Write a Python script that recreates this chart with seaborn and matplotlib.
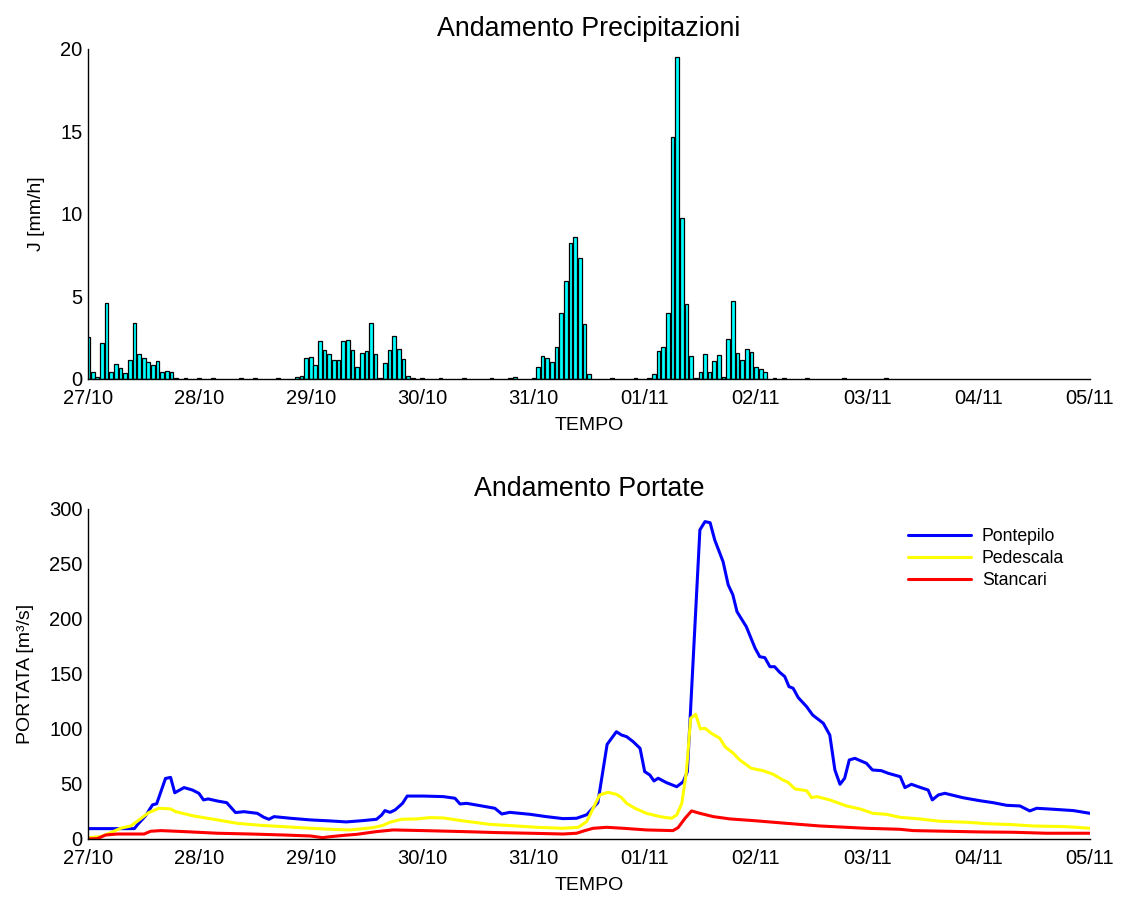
import numpy as np
import pandas as pd
import matplotlib
matplotlib.use("Agg")
import matplotlib.pyplot as plt
import seaborn as sns

# ---------------- data ----------------
day_labels = ["27/10", "28/10", "29/10", "30/10", "31/10",
              "01/11", "02/11", "03/11", "04/11", "05/11"]

# hourly rainfall intensity (hours from 27/10 00:00), dry hours omitted
rain_hours = [0, 1, 2, 3, 4, 5, 6, 7, 8, 9, 10, 11, 12, 13, 14, 15, 16, 17, 18,
              19, 21, 24, 27, 33, 36, 41,
              45, 46, 47, 48, 49, 50, 51, 52, 53, 54, 55, 56, 57, 58, 59, 60,
              61, 62, 63, 64, 65, 66, 67, 68, 69, 70,
              72, 76, 81, 87, 91, 92,
              96, 97, 98, 99, 100, 101, 102, 103, 104, 105, 106, 107, 108,
              113, 118,
              121, 122, 123, 124, 125, 126, 127, 128, 129, 130, 131, 132, 133,
              134, 135, 136, 137, 138, 139, 140, 141, 142, 143, 144, 145, 146,
              148, 150, 155, 163, 172]
rain_mm = [2.56, 0.40, 0.15, 2.16, 4.59, 0.40, 0.91, 0.69, 0.34, 1.13, 3.39,
           1.49, 1.25, 1.05, 0.83, 1.11, 0.42, 0.50, 0.42,
           0.05, 0.05, 0.03, 0.05, 0.04, 0.05, 0.04,
           0.10, 0.20, 1.25, 1.35, 0.85, 2.28, 1.76, 1.52, 1.15, 1.15, 2.32,
           2.38, 1.74, 0.73, 1.56, 1.70,
           3.41, 1.52, 0.04, 0.99, 1.74, 2.63, 1.80, 1.21, 0.18, 0.05,
           0.04, 0.05, 0.04, 0.05, 0.08, 0.10,
           0.08, 0.73, 1.41, 1.25, 1.05, 1.94, 3.98, 5.94, 8.22, 8.63, 7.31,
           3.31, 0.32,
           0.04, 0.05,
           0.08, 0.28, 1.70, 1.94, 3.98, 14.69, 19.54, 9.74, 4.55, 1.39, 0.05,
           0.40, 1.52,
           0.40, 1.09, 1.45, 0.10, 2.40, 4.71, 1.56, 1.15, 1.80, 1.64, 0.71,
           0.63, 0.42,
           0.05, 0.04, 0.05, 0.04, 0.03]

# discharge at the three gauges [m3/s]
pontepilo_h = [0, 10, 10.6, 12.4, 13.9, 14.8, 16.7, 17.8, 18.7, 20.7, 22.5, 23.9,
               24.9, 25.9, 27.9, 29.9, 31.8, 33.6, 36.5, 37.9, 39, 40.1, 43.7,
               48, 52.2, 55.7, 59.3, 62.2, 63.3, 64, 65.1, 66.2, 67.8, 68.8,
               72.3, 76.6, 79.1, 80.2, 81.6, 84.5, 87.7, 89.2, 90.9, 95.3, 98.8,
               102.4, 105.3, 107.5, 109.9, 111.9, 113.9, 115, 116.1, 117.5, 119,
               120, 121.1, 122, 122.9, 124.7, 126.9, 128.3, 129.2, 131.9, 133,
               134.1, 135.1, 136.9, 138, 139, 139.9, 141.9, 143.8, 144.8, 145.9,
               147, 148, 149.1, 150.2, 151.1, 152, 153.1, 154.9, 156.2, 158.5,
               159.9, 161, 162.1, 163.1, 164.1, 165.3, 167.8, 169.1, 171, 172.5,
               175.1, 176.1, 177.5, 179.3, 181.1, 182, 183.3, 184.7, 188.6,
               192.2, 195.1, 198, 200.9, 203, 204.5, 208.1, 212.4, 216]
pontepilo_q = [9.4, 9.4, 12.7, 21, 31, 32, 55, 56, 42, 46.7, 44.5, 41.5,
               35.5, 36.4, 34.5, 33, 24, 24.8, 23.3, 19.7, 17.9, 20.3, 18.8,
               17.3, 16.4, 15.5, 16.7, 17.9, 21.8, 25.8, 24.2, 26.4, 32.4, 39,
               39, 38.5, 37, 31.8, 32.4, 30.3, 27.9, 22.7, 24.2, 22.4, 20.3,
               18.5, 18.8, 22, 33, 86, 97.5, 94.5, 93, 88.5, 82.4,
               61.2, 58.2, 52.7, 55.2, 51.2, 47.5, 52, 61.2, 281, 288.5,
               287.5, 271.8, 252, 231, 222, 206.6, 193, 173.4, 165.7, 164.8,
               156.6, 156.6, 151.5, 147.6, 138.5, 137, 128.5, 120.3, 112.7, 105.2,
               94.5, 62.7, 49.7, 55.2, 71.8, 73.3, 68.8, 62.7, 62.1, 59.7,
               56.6, 46.7, 49.7, 47, 44.5, 35.5, 40, 41.5, 37.5,
               34.8, 33, 30.6, 30, 25.5, 27.9, 27, 25.8, 23.3]

pedescala_h = [0, 2.7, 4.9, 7, 9.2, 11, 13.1, 15.3, 17.8, 18.9, 22.8, 27.9, 32.2,
               37.2, 42.2, 48, 52.2, 56.5, 61.5, 63.6, 65.1, 67.6, 70.8, 73.7,
               76.6, 80.9, 86.6, 92.4, 96.7, 102.4, 105.7, 107.5, 108.9, 110.3,
               112.1, 113.9, 115, 116.1, 117.9, 120.4, 123.3, 125.8, 126.9, 128,
               129, 129.9, 131, 132, 133, 134.4, 136.2, 137.3, 139.1, 140.5,
               143, 145.5, 147.7, 149.8, 150.9, 152.4, 154.9, 156, 157.1, 159.9,
               163.5, 166.4, 169.2, 172.1, 175, 179.3, 183.6, 189.4, 193.7,
               199.4, 203.7, 210.9, 216]
pedescala_q = [1.2, 2.1, 5.7, 9.7, 11.8, 17.3, 24, 27.9, 27.3, 24.8, 20.9, 17.3, 14.2,
               12.4, 11.2, 9.7, 8.8, 8.2, 10.3, 12.4, 15.2, 17.9, 18.2, 19.4,
               19.1, 16.4, 13.3, 11.8, 10.6, 9.7, 10.6, 15.8, 28, 40,
               42.4, 40.6, 37.6, 32.4, 27.9, 23.3, 20.3, 18.8, 21.8, 32.4,
               61.2, 109.7, 113.3, 100, 100.6, 96, 91.5, 83.9, 77.9, 71.8,
               64.2, 62.1, 58.8, 53.6, 51.5, 45.5, 43.9, 37.6, 38.5, 35.5,
               30, 27.3, 23.3, 22.4, 19.7, 18.2, 16.1, 15.2, 13.9,
               13, 11.8, 11.2, 9.7]

stancari_h = [0, 2, 3.8, 6.3, 12.1, 13.5, 15.7, 20.7, 27.9, 35.1, 42.2, 48, 50.5,
              52.3, 55.2, 57.9, 62.2, 65.8, 72.3, 80.9, 88.1, 95.3, 102.4, 105.3,
              107.1, 108.9, 111.8, 115.4, 120.4, 126.1, 127.2, 128.7, 130.1,
              131.9, 134.8, 138.4, 143.4, 150.6, 157.8, 167.8, 175, 177.9,
              185.1, 192.2, 199.4, 206.6, 216]
stancari_q = [0, 0.3, 3.6, 4.5, 4.5, 7, 7.6, 6.7, 5.2, 4.5, 3.6, 2.7, 1.2,
              2.1, 3.3, 4.2, 6.7, 8.2, 7.6, 6.7, 5.8, 5.2, 4.5, 5.2,
              7.6, 9.7, 10.6, 9.7, 8.2, 7.6, 10.3, 18.8, 25.5,
              23.3, 20.3, 18.2, 16.7, 14.2, 11.8, 9.7, 8.8, 7.6,
              7, 6.4, 6.1, 5.2, 5.2]

stations = ["Pontepilo", "Pedescala", "Stancari"]
station_colors = ["#0000FF", "#FFFF00", "#FF0000"]

# ---------------- style ----------------
sns.set_style("white")
plt.rcParams["font.family"] = ["Liberation Sans", "DejaVu Sans"]
plt.rcParams["xtick.direction"] = "in"
plt.rcParams["ytick.direction"] = "in"
plt.rcParams["text.color"] = "black"
plt.rcParams["axes.labelcolor"] = "black"

fig = plt.figure(figsize=(11.27, 8.97), dpi=100)
ax1 = fig.add_axes([0.0781, 0.5775, 0.8891, 0.3679])
ax2 = fig.add_axes([0.0781, 0.0647, 0.8891, 0.3679])

day_ticks = np.arange(len(day_labels)) * 24

# ---------------- rainfall ----------------
rain_df = pd.DataFrame({"hour": rain_hours, "rain": rain_mm})
sns.barplot(data=rain_df, x="hour", y="rain", native_scale=True, width=0.8,
            color="#00FFFF", saturation=1, edgecolor="black", linewidth=0.9,
            errorbar=None, ax=ax1)
ax1.set_ylim(0, 20)
ax1.set_yticks([0, 5, 10, 15, 20])
ax1.set_title("Andamento Precipitazioni", fontsize=19.3, pad=9, color="black")
ax1.set_ylabel("J [mm/h]", fontsize=14)

# ---------------- discharge ----------------
flow_df = pd.concat([
    pd.DataFrame({"hour": pontepilo_h, "q": pontepilo_q, "station": stations[0]}),
    pd.DataFrame({"hour": pedescala_h, "q": pedescala_q, "station": stations[1]}),
    pd.DataFrame({"hour": stancari_h, "q": stancari_q, "station": stations[2]}),
], ignore_index=True)
sns.lineplot(data=flow_df, x="hour", y="q", hue="station", hue_order=stations,
             palette=station_colors, estimator=None, linewidth=2.2,
             legend=False, ax=ax2)
ax2.set_ylim(0, 300)
ax2.set_yticks(np.arange(0, 301, 50))
ax2.set_title("Andamento Portate", fontsize=19.3, pad=9, color="black")
ax2.set_ylabel("PORTATA [m³/s]", fontsize=14)
ax2.legend(ax2.lines[:3], stations, frameon=False, loc="upper right",
           bbox_to_anchor=(0.99, 0.99), fontsize=12.7, handlelength=3.6,
           handletextpad=0.6, labelspacing=0.28)

for ax in (ax1, ax2):
    ax.set_xlim(0, 216)
    ax.set_xticks(day_ticks)
    ax.set_xticklabels(day_labels)
    ax.set_xlabel("TEMPO", fontsize=14)
    ax.xaxis.set_label_coords(0.5, -0.115)
    ax.tick_params(axis="both", labelsize=14.5, length=6.5, width=1,
                   color="#333333", labelcolor="black")
    ax.tick_params(axis="x", pad=7)
    ax.tick_params(axis="y", pad=4)
    for side in ("top", "right"):
        ax.spines[side].set_visible(False)
    for side in ("left", "bottom"):
        ax.spines[side].set_color("black")
        ax.spines[side].set_linewidth(1)
    ax.grid(False)

ax1.yaxis.set_label_coords(-0.043, 0.5)
ax2.yaxis.set_label_coords(-0.054, 0.5)

fig.savefig("out.png", dpi=100)
